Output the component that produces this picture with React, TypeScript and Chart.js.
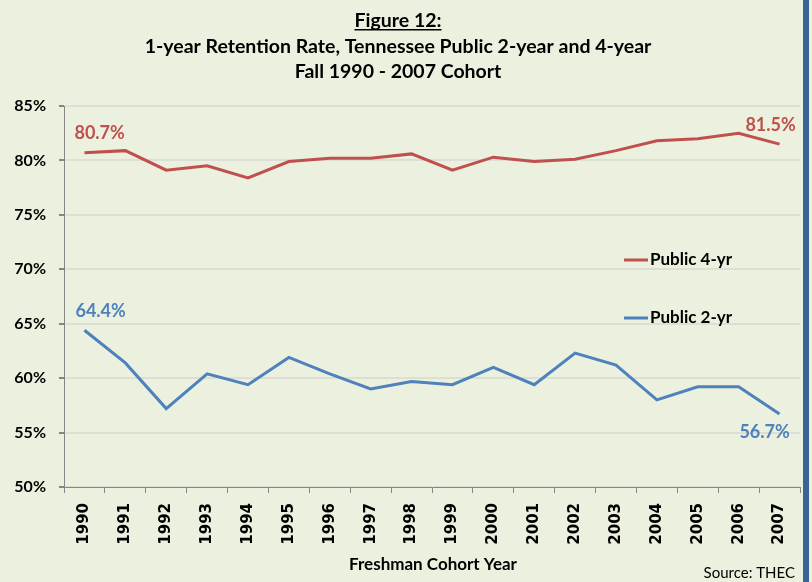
import React, { useEffect, useRef } from "react";
import { Chart, registerables } from "chart.js";

Chart.register(...registerables);

const years = ["1990", "1991", "1992", "1993", "1994", "1995", "1996", "1997", "1998", "1999", "2000", "2001", "2002", "2003", "2004", "2005", "2006", "2007"];
const public4yr = [80.7, 80.9, 79.1, 79.5, 78.4, 79.9, 80.2, 80.2, 80.6, 79.1, 80.3, 79.9, 80.1, 80.9, 81.8, 82.0, 82.5, 81.5];
const public2yr = [64.4, 61.4, 57.2, 60.4, 59.4, 61.9, 60.4, 59.0, 59.7, 59.4, 61.0, 59.4, 62.3, 61.2, 58.0, 59.2, 59.2, 56.7];
const seriesNames = ["Public 4-yr", "Public 2-yr"];
const yMin = 50;
const yMax = 85;
const yStep = 5;
const titleLines = ["Figure 12:", "1-year Retention Rate, Tennessee Public 2-year and 4-year", "Fall 1990 - 2007 Cohort"];
const xAxisTitle = "Freshman Cohort Year";
const sourceNote = "Source: THEC";

const RED = "#C0504D";
const BLUE = "#4F81BD";
const BG = "#EBF1DE";
const FONT = "Lato, 'Open Sans', sans-serif";

const decorations = {
  id: "decorations",
  beforeDraw(chart: any) {
    const ctx = chart.ctx;
    ctx.save();
    ctx.fillStyle = BG;
    ctx.fillRect(0, 0, chart.width, chart.height);
    ctx.restore();
  },
  afterDraw(chart: any) {
    const ctx = chart.ctx;
    ctx.save();
    // Titles
    ctx.fillStyle = "#000";
    ctx.textAlign = "center";
    ctx.textBaseline = "alphabetic";
    const cx = 398;
    ctx.font = `bold 19.5px ${FONT}`;
    ctx.fillText(titleLines[0], cx, 27);
    const w0 = ctx.measureText(titleLines[0]).width;
    ctx.fillRect(cx - w0 / 2, 29, w0, 1.5);
    ctx.fillText(titleLines[1], cx, 53);
    ctx.fillText(titleLines[2], cx, 78);

    // X axis title
    ctx.font = `bold 17px ${FONT}`;
    ctx.textBaseline = "middle";
    ctx.fillText(xAxisTitle, 433, 565);

    // Source
    ctx.font = `15px ${FONT}`;
    ctx.textAlign = "right";
    ctx.fillText(sourceNote, 795, 573);

    // Legend
    const legendItems = [
      { name: seriesNames[0], color: RED, y: 260 },
      { name: seriesNames[1], color: BLUE, y: 318 },
    ];
    ctx.font = `bold 17px ${FONT}`;
    ctx.textAlign = "left";
    legendItems.forEach((it) => {
      ctx.strokeStyle = it.color;
      ctx.lineWidth = 3;
      ctx.beginPath();
      ctx.moveTo(624, it.y);
      ctx.lineTo(648, it.y);
      ctx.stroke();
      ctx.fillStyle = "#000";
      ctx.fillText(it.name, 650, it.y);
    });

    // Data labels on first and last points
    ctx.font = `bold 18px ${FONT}`;
    const m0 = chart.getDatasetMeta(0).data;
    const m1 = chart.getDatasetMeta(1).data;
    const n = years.length - 1;
    const fmt = (v: number) => v.toFixed(1) + "%";
    ctx.fillStyle = RED;
    ctx.textAlign = "left";
    ctx.fillText(fmt(public4yr[0]), m0[0].x - 10, m0[0].y - 20);
    ctx.textAlign = "center";
    ctx.fillText(fmt(public4yr[n]), m0[n].x - 9, m0[n].y - 19);
    ctx.fillStyle = BLUE;
    ctx.textAlign = "left";
    ctx.fillText(fmt(public2yr[0]), m1[0].x - 9, m1[0].y - 19);
    ctx.textAlign = "center";
    ctx.fillText(fmt(public2yr[n]), m1[n].x - 15, m1[n].y + 18);

    // Right border strip
    ctx.fillStyle = "#3A6496";
    ctx.fillRect(803, 0, 6, chart.height);
    ctx.restore();
  },
};

export default function App() {
  const ref = useRef<HTMLCanvasElement | null>(null);
  useEffect(() => {
    if (!ref.current) return;
    const chart = new Chart(ref.current, {
      type: "line",
      data: {
        labels: years,
        datasets: [
          { label: seriesNames[0], data: public4yr, borderColor: RED, backgroundColor: RED, borderWidth: 3, pointRadius: 0, tension: 0 },
          { label: seriesNames[1], data: public2yr, borderColor: BLUE, backgroundColor: BLUE, borderWidth: 3, pointRadius: 0, tension: 0 },
        ],
      },
      plugins: [decorations],
      options: {
        animation: false,
        responsive: false,
        devicePixelRatio: 1,
        layout: { padding: { top: 106, right: 12, left: 0, bottom: 0 } },
        plugins: {
          legend: { display: false },
          title: { display: false },
          tooltip: { enabled: false },
        },
        scales: {
          x: {
            offset: true,
            afterFit: (s: any) => { s.height = 95; },
            grid: { display: true, drawOnChartArea: false, offset: true, tickLength: 6, color: "#868686" },
            border: { color: "#868686", width: 1 },
            ticks: {
              minRotation: 90,
              maxRotation: 90,
              padding: 10,
              color: "#000",
              font: { family: "'DejaVu Sans', sans-serif", weight: "bold", size: 15 },
            },
          },
          y: {
            min: yMin,
            max: yMax,
            afterFit: (s: any) => { s.width = 64; },
            grid: { color: "#DCDFD4", lineWidth: 2, tickLength: 5, tickColor: "#868686" },
            border: { color: "#868686", width: 1 },
            ticks: {
              stepSize: yStep,
              padding: 13,
              color: "#000",
              font: { family: FONT, weight: "bold", size: 16 },
              callback: (v: any) => v + "%",
            },
          },
        },
      },
    });
    return () => chart.destroy();
  }, []);
  return (
    <div style={{ position: "fixed", left: 0, top: 0, width: 812, height: 582 }}>
      <canvas ref={ref} width={812} height={582} style={{ display: "block", width: 812, height: 582 }} />
    </div>
  );
}
